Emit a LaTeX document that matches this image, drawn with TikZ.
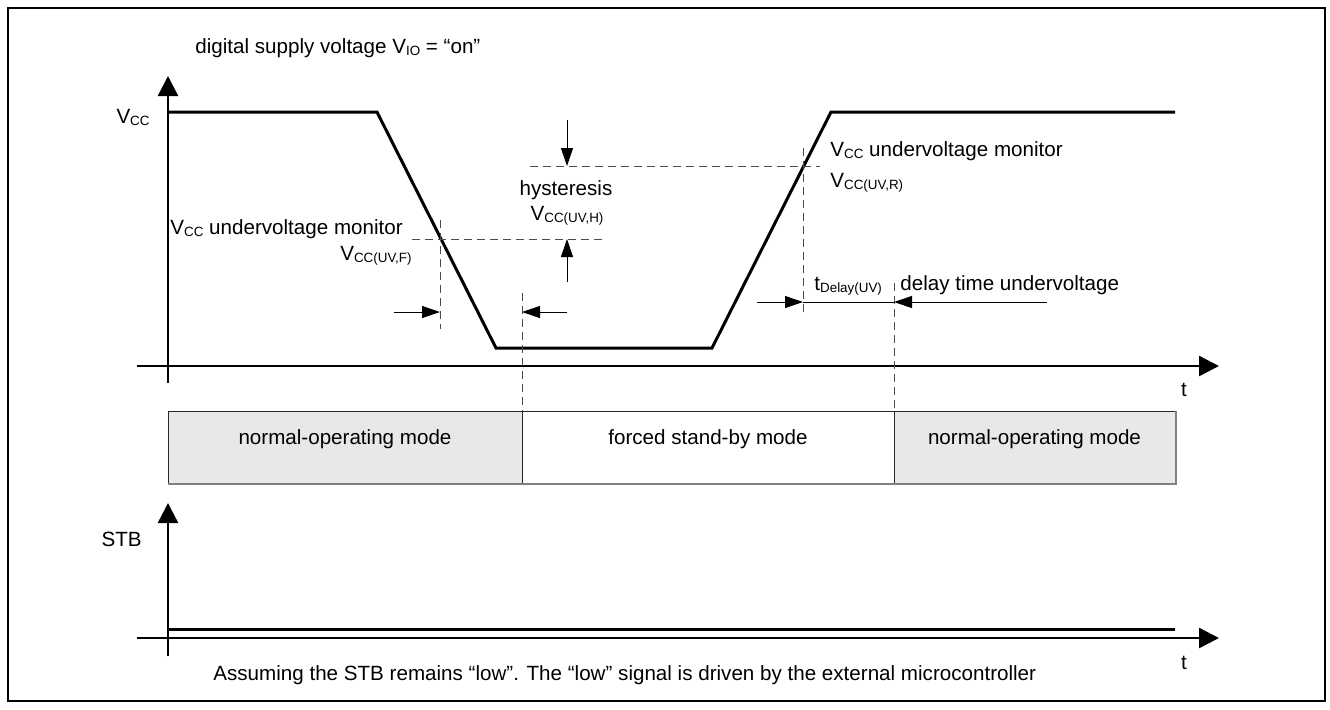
\documentclass[tikz,border=0pt]{standalone}
\usepackage{fontspec}
\setmainfont{Liberation Sans}
\usetikzlibrary{positioning, fit, arrows.meta}
\newcommand{\lowidx}[1]{\raisebox{-1.2pt}{\fontsize{6.7}{8}\selectfont #1}}

\begin{document}
\begin{tikzpicture}[
	x=0.5pt, y=-0.5pt,
	txt/.style={inner sep=0pt, font=\fontsize{10.3}{12}\selectfont},
	axis/.style={line width=1.2pt, -{Triangle[length=10pt, width=10pt]}},
	signal/.style={line width=1.5pt, line join=miter},
	helpline/.style={dash pattern=on 4pt off 2.5pt, line width=0.5pt, black!70},
	dimarrow/.style={line width=0.5pt, -{Triangle[length=9pt, width=6pt]}},
	modegray/.style={draw=black!85, line width=0.5pt, fill=black!9, inner sep=0pt, font=\fontsize{10.3}{12}\selectfont},
	modewhite/.style={modegray, fill=white},
	shadowline/.style={black!50, line width=1pt}
]

\useasboundingbox (0,0) rectangle (1330,709);
\draw[line width=1pt] (8,8) rectangle (1325,701);

\node[txt, anchor=base west] (vio) at (195,53) {digital supply voltage V\lowidx{IO} = “on”};

% VCC plot
\draw[axis] (168,383) -- (168,76);
\draw[axis] (137,366) -- (1219,366);
\node[txt, anchor=base east] (vcc) at (150,123) {V\lowidx{CC}};
\node[txt, anchor=base] (t_top) at (1184,396) {t};

\coordinate (s0) at (168,112);
\coordinate (s1) at (377,112);
\coordinate (s2) at (496,348);
\coordinate (s3) at (712,348);
\coordinate (s4) at (831,112);
\coordinate (s5) at (1175,112);
\draw[signal] (s0) -- (s1) -- (s2) -- (s3) -- (s4) -- (s5);

% thresholds
\draw[helpline] (412,239) -- (603,239);
\draw[helpline] (530,166) -- (820,166);
\draw[helpline] (440,220) -- (440,329);
\draw[helpline] (803,148) -- (803,317);
\draw[helpline] (522,293) -- (522,411);
\draw[helpline] (894,283) -- (894,411);

\node[txt, anchor=base west] (mon_f) at (170,234) {V\lowidx{CC} undervoltage monitor};
\node[txt, anchor=base east] (uv_f) at (412,260) {V\lowidx{CC(UV,F)}};
\node[txt, anchor=base] (hyst) at (566,195) {hysteresis};
\node[txt, anchor=base] (uv_h) at (567,220) {V\lowidx{CC(UV,H)}};
\node[txt, anchor=base west] (mon_r) at (830,156) {V\lowidx{CC} undervoltage monitor};
\node[txt, anchor=base west] (uv_r) at (830,187) {V\lowidx{CC(UV,R)}};
\node[txt, anchor=base west] (tdelay) at (814,290) {t\lowidx{Delay(UV)}};
\node[txt, anchor=base west] (delaytext) at (900,290) {delay time undervoltage};

\draw[dimarrow] (567,120) -- (567,166);
\draw[dimarrow] (567,282) -- (567,239);
\draw[dimarrow] (394,312) -- (440,312);
\draw[dimarrow] (567,312) -- (522,312);
\draw[dimarrow] (757,302) -- (803,302);
\draw[line width=0.5pt] (803,302) -- (894,302);
\draw[dimarrow] (1047,302) -- (894,302);

% modes
\coordinate (m0) at (168,411);
\coordinate (m1) at (522,483);
\coordinate (m2) at (522,411);
\coordinate (m3) at (894,483);
\coordinate (m4) at (894,411);
\coordinate (m5) at (1175,483);
\node[modegray, fit=(m0)(m1)] (mode1) {normal-operating mode};
\node[modewhite, fit=(m2)(m3)] (mode2) {forced stand-by mode};
\node[modegray, fit=(m4)(m5)] (mode3) {normal-operating mode};
\draw[shadowline] (mode1.south west) -- (mode3.south east) -- (mode3.north east);

% STB plot
\draw[axis] (168,656) -- (168,503);
\draw[axis] (137,638) -- (1219,638);
\node[txt, anchor=base east] (stb) at (142,546) {STB};
\node[txt, anchor=base] (t_bot) at (1184,669) {t};
\draw[signal] (168,629) -- (1175,629);

\node[txt, anchor=base west] (note) at (213,680) {Assuming the STB remains “low”. The “low” signal is driven by the external microcontroller};

\end{tikzpicture}
\end{document}
